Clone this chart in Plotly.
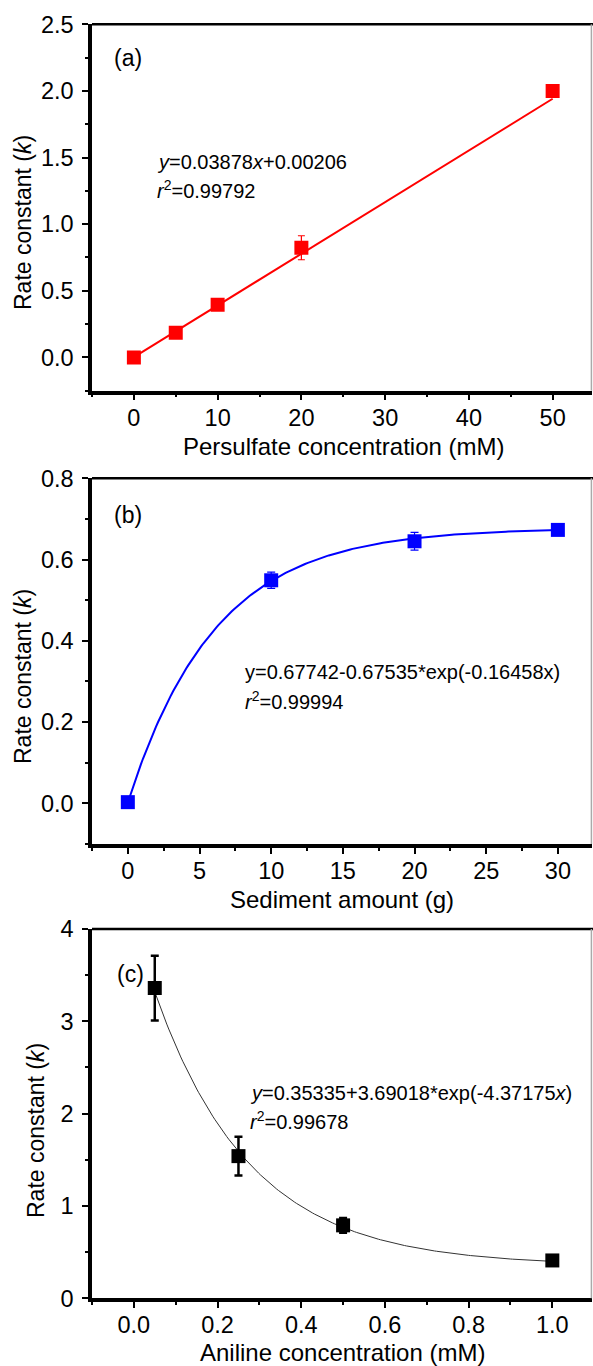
import numpy as np
import plotly.graph_objects as go

# ---------------- data ----------------
# Panel (a)
a_x = [0, 5, 10, 20, 50]
a_y = [0.0, 0.185, 0.395, 0.823, 2.0]
a_err = [0.0, 0.0, 0.0, 0.09, 0.03]
a_fit = [0.03878, 0.00206]          # slope, intercept
a_fit_x = [0, 50]

# Panel (b)
b_x = [0, 10, 20, 30]
b_y = [0.003, 0.549, 0.645, 0.673]
b_err = [0.0, 0.02, 0.022, 0.0]
b_fit = [0.67742, 0.67535, 0.16458]   # y = A - B*exp(-c x)
b_fit_x = [0, 30]

# Panel (c)
c_x = [0.05, 0.25, 0.5, 1.0]
c_y = [3.36, 1.54, 0.79, 0.41]
c_err = [0.35, 0.21, 0.08, 0.0]
c_fit = [0.35335, 3.69018, 4.37175]   # y = A + B*exp(-c x)
c_fit_x = [0.05, 1.0]

W, H = 593, 1366
FONT = "Liberation Sans, Arial, sans-serif"

fig = go.Figure()

# fit lines
xa = np.linspace(a_fit_x[0], a_fit_x[1], 2)
fig.add_trace(go.Scatter(x=xa, y=a_fit[0] * xa + a_fit[1], mode="lines",
                         line=dict(color="#ff0000", width=2), xaxis="x", yaxis="y",
                         showlegend=False, hoverinfo="skip"))
xb = np.linspace(b_fit_x[0], b_fit_x[1], 200)
fig.add_trace(go.Scatter(x=xb, y=b_fit[0] - b_fit[1] * np.exp(-b_fit[2] * xb), mode="lines",
                         line=dict(color="#0000ff", width=2), xaxis="x2", yaxis="y2",
                         showlegend=False, hoverinfo="skip"))
xc = np.linspace(c_fit_x[0], c_fit_x[1], 200)
fig.add_trace(go.Scatter(x=xc, y=c_fit[0] + c_fit[1] * np.exp(-c_fit[2] * xc), mode="lines",
                         line=dict(color="#333333", width=1), xaxis="x3", yaxis="y3",
                         showlegend=False, hoverinfo="skip"))

# points
fig.add_trace(go.Scatter(x=a_x, y=a_y, mode="markers", xaxis="x", yaxis="y",
                         marker=dict(symbol="square", size=14, color="#ff0000"),
                         error_y=dict(type="data", array=a_err, color="#ff0000",
                                      thickness=1.2, width=3.5),
                         showlegend=False))
fig.add_trace(go.Scatter(x=b_x, y=b_y, mode="markers", xaxis="x2", yaxis="y2",
                         marker=dict(symbol="square", size=14, color="#0000ff"),
                         error_y=dict(type="data", array=b_err, color="#0000ff",
                                      thickness=1.2, width=4),
                         showlegend=False))
fig.add_trace(go.Scatter(x=c_x, y=c_y, mode="markers", xaxis="x3", yaxis="y3",
                         marker=dict(symbol="square", size=14, color="#000000"),
                         error_y=dict(type="data", array=c_err, color="#000000",
                                      thickness=2.5, width=4),
                         showlegend=False))


def px_y(y):
    return 1 - y / H


def px_x(x):
    return x / W


XL, XR = 92, 592
panels = [
    # top px, bottom px (page coordinates)
    (24.3, 390.7),
    (478.3, 844.0),
    (929.0, 1298.3),
]

common_ax = dict(showline=True, linewidth=3.5, linecolor="black", ticks="outside",
                 ticklen=6, tickwidth=2, tickcolor="black", showgrid=False, zeroline=False,
                 tickfont=dict(family=FONT, size=23.5, color="black"), automargin=False)

xranges = [[-5, 54.7], [-2.5, 32.38], [-0.1, 1.0948]]
xdt = [10, 5, 0.2]
yranges = [[-0.25, 2.5], [-0.1, 0.8], [0, 4]]
ydt = [0.5, 0.2, 1]
yfmt = [".1f", ".1f", "d"]
xfmt = ["d", "d", ".1f"]

layout = dict(width=W, height=H, margin=dict(l=0, r=0, t=0, b=0, autoexpand=False),
              paper_bgcolor="white", plot_bgcolor="white", showlegend=False)

for i, (top, bot) in enumerate(panels):
    sx = "" if i == 0 else str(i + 1)
    xa_d = dict(common_ax, domain=[px_x(XL), px_x(XR)], range=xranges[i],
                dtick=xdt[i], tick0=0, tickformat=xfmt[i], ticklabelstandoff=-3,
                anchor="y" + sx,
                minor=dict(dtick=xdt[i] / 2, tick0=0, ticks="outside", ticklen=3,
                           tickwidth=2, tickcolor="black"))
    ya_d = dict(common_ax, domain=[px_y(bot), px_y(top)], range=yranges[i],
                dtick=ydt[i], tick0=0, tickformat=yfmt[i], ticklabelstandoff=4,
                anchor="x" + sx,
                minor=dict(dtick=ydt[i] / 2, tick0=0, ticks="outside", ticklen=3,
                           tickwidth=2, tickcolor="black"))
    layout["xaxis" + sx] = xa_d
    layout["yaxis" + sx] = ya_d

fig.update_layout(**layout)

# top / right frame lines
shapes = []
for top, bot in panels:
    shapes.append(dict(type="line", xref="paper", yref="paper",
                       x0=px_x(XL), x1=1, y0=px_y(top), y1=px_y(top),
                       line=dict(color="black", width=2.5)))
    shapes.append(dict(type="line", xref="paper", yref="paper",
                       x0=px_x(XR) - 0.001, x1=px_x(XR) - 0.001,
                       y0=px_y(bot), y1=px_y(top),
                       line=dict(color="#aaaaaa", width=1.5)))
fig.update_layout(shapes=shapes)


def ann(text, x, y, size, xanchor="center", yanchor="middle", angle=0):
    fig.add_annotation(text=text, x=px_x(x), y=px_y(y), xref="paper", yref="paper",
                       xanchor=xanchor, yanchor=yanchor, showarrow=False, textangle=angle,
                       font=dict(family=FONT, size=size, color="black"))


# panel labels
ann("(a)", 128, 58, 23)
ann("(b)", 128, 515, 23)
ann("(c)", 130, 974, 23)

# axis titles
ann("Persulfate concentration (mM)", 343, 446, 24)
ann("Sediment amount (g)", 342, 899, 24)
ann("Aniline concentration (mM)", 342, 1352, 24)
ann("Rate constant (<i>k</i>)", 23, 223, 23, angle=-90)
ann("Rate constant (<i>k</i>)", 23, 677, 23, angle=-90)
ann("Rate constant (<i>k</i>)", 36, 1131, 23, angle=-90)

# equations
ann("<i>y</i>=0.03878<i>x</i>+0.00206", 155, 162, 20, xanchor="left")
ann("<i>r</i><sup>2</sup>=0.99792", 155, 190, 20, xanchor="left")
ann("y=0.67742-0.67535*exp(-0.16458x)", 243, 672, 20, xanchor="left")
ann("<i>r</i><sup>2</sup>=0.99994", 243, 700, 20, xanchor="left")
ann("<i>y</i>=0.35335+3.69018*exp(-4.37175<i>x</i>)", 248, 1093, 20, xanchor="left")
ann("<i>r</i><sup>2</sup>=0.99678", 248, 1120, 20, xanchor="left")

# remove the default 8px page margin so the 593x1366 figure fills the window exactly
fig.write_html("out.html", config={"displayModeBar": False},
               post_script="document.body.style.margin='0';")
